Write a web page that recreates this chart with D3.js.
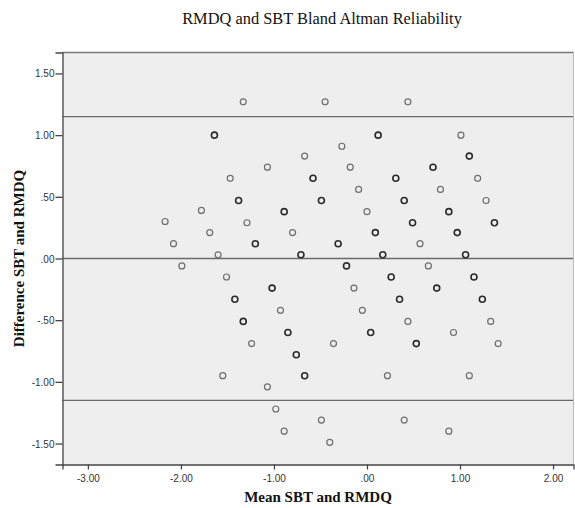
<!DOCTYPE html>
<html>
<head>
<meta charset="utf-8">
<script src="https://cdn.jsdelivr.net/npm/d3@7"></script>
<style>
  body { margin: 0; background: #fff; }
  #chart { width: 575px; height: 508px; }
  .tick text { font-family: "Liberation Sans", Arial, sans-serif; font-size: 10px; fill: #333; }
</style>
</head>
<body>
<div id="chart"></div>
<script>
// Bland Altman data: mean of the two (standardised) scores, their difference, and how many subjects sit on that spot
const meanVals = [-2.17, -2.08, -1.99, -1.78, -1.69, -1.60, -1.51, -1.42, -1.33, -1.24,
  -1.55, -1.64, -1.47, -1.38, -1.29, -1.20, -1.33, -1.07, -1.02, -1.07,
  -0.98, -0.93, -0.89, -0.85, -0.89, -0.80, -0.76, -0.71, -0.67, -0.67,
  -0.58, -0.49, -0.49, -0.45, -0.40, -0.36, -0.31, -0.27, -0.22, -0.18,
  -0.14, -0.09, -0.05, 0.00, 0.04, 0.09, 0.12, 0.17, 0.22, 0.26,
  0.31, 0.35, 0.40, 0.40, 0.44, 0.44, 0.49, 0.53, 0.57, 0.66,
  0.71, 0.75, 0.79, 0.88, 0.88, 0.93, 0.97, 1.01, 1.06, 1.10,
  1.10, 1.15, 1.19, 1.24, 1.28, 1.33, 1.37, 1.41];
const diffVals = [0.30, 0.12, -0.06, 0.39, 0.21, 0.03, -0.15, -0.33, -0.51, -0.69,
  -0.95, 1.00, 0.65, 0.47, 0.29, 0.12, 1.27, 0.74, -0.24, -1.04,
  -1.22, -0.42, 0.38, -0.60, -1.40, 0.21, -0.78, 0.03, -0.95, 0.83,
  0.65, 0.47, -1.31, 1.27, -1.49, -0.69, 0.12, 0.91, -0.06, 0.74,
  -0.24, 0.56, -0.42, 0.38, -0.60, 0.21, 1.00, 0.03, -0.95, -0.15,
  0.65, -0.33, 0.47, -1.31, 1.27, -0.51, 0.29, -0.69, 0.12, -0.06,
  0.74, -0.24, 0.56, 0.38, -1.40, -0.60, 0.21, 1.00, 0.03, 0.83,
  -0.95, -0.15, 0.65, -0.33, 0.47, -0.51, 0.29, -0.69];
const nObs = [1, 1, 1, 1, 1, 1, 1, 2, 2, 1,
  1, 2, 1, 2, 1, 2, 1, 1, 2, 1,
  1, 1, 2, 2, 1, 1, 2, 2, 2, 1,
  2, 2, 1, 1, 1, 1, 2, 1, 2, 1,
  1, 1, 1, 1, 2, 2, 2, 2, 1, 2,
  2, 2, 2, 1, 1, 1, 2, 2, 1, 1,
  2, 2, 1, 2, 1, 1, 2, 1, 2, 2,
  1, 2, 1, 2, 1, 1, 2, 1];

// mean difference and limits of agreement
const refLines = [1.15, 0.00, -1.15];

const xTicks = [-3, -2, -1, 0, 1, 2];
const yTicks = [1.5, 1.0, 0.5, 0.0, -0.5, -1.0, -1.5];

const titleText = "RMDQ and SBT Bland Altman Reliability";
const xLabel = "Mean SBT and RMDQ";
const yLabel = "Difference SBT and RMDQ";

const width = 575, height = 508;
const margin = {top: 52.5, right: 1.5, bottom: 43.5, left: 62.5};
const plotW = width - margin.left - margin.right;
const plotH = height - margin.top - margin.bottom;

// SPSS style number format: drop the leading zero
const fmt = v => {
    let s = d3.format(".2f")(Math.abs(v));
    if (s.startsWith("0")) s = s.slice(1);
    return (v < 0 ? "-" : "") + s;
};

const svg = d3.select("#chart").append("svg")
    .attr("width", width)
    .attr("height", height);

const x = d3.scaleLinear().domain([-3.273, 2.22]).range([0, plotW]);
const y = d3.scaleLinear().domain([-1.67, 1.67]).range([plotH, 0]);

const g = svg.append("g").attr("transform", `translate(${margin.left},${margin.top})`);

g.append("rect")
    .attr("width", plotW)
    .attr("height", plotH)
    .attr("fill", "#eeeeee");

g.selectAll("line.ref")
    .data(refLines)
    .join("line")
    .attr("class", "ref")
    .attr("x1", 0)
    .attr("x2", plotW)
    .attr("y1", d => y(d))
    .attr("y2", d => y(d))
    .attr("stroke", "#6a6a6a")
    .attr("stroke-width", 1.4);

const points = meanVals.map((m, i) => ({m: m, d: diffVals[i], n: nObs[i]}));

g.selectAll("circle")
    .data(points)
    .join("circle")
    .attr("cx", p => x(p.m))
    .attr("cy", p => y(p.d))
    .attr("r", 3)
    .attr("fill", "none")
    .attr("stroke", p => p.n > 1 ? "#2a2a2a" : "#6e6e6e")
    .attr("stroke-width", p => p.n > 1 ? 1.6 : 1.2);

// frame: top and right lighter, left and bottom carry the axes
g.append("line").attr("x1", 0).attr("x2", plotW).attr("y1", 0).attr("y2", 0)
    .attr("stroke", "#7a7a7a").attr("stroke-width", 1.3);
g.append("line").attr("x1", plotW).attr("x2", plotW).attr("y1", 0).attr("y2", plotH)
    .attr("stroke", "#bbbbbb").attr("stroke-width", 1);

const xAxis = g.append("g")
    .attr("transform", `translate(0,${plotH})`)
    .call(d3.axisBottom(x).tickValues(xTicks).tickFormat(fmt).tickSizeOuter(0).tickSize(5).tickPadding(3));
const yAxis = g.append("g")
    .call(d3.axisLeft(y).tickValues(yTicks).tickFormat(fmt).tickSizeOuter(0).tickSize(7).tickPadding(1));

[xAxis, yAxis].forEach(ax => {
    ax.select(".domain").attr("stroke", "#444").attr("stroke-width", 1.3);
    ax.selectAll(".tick line").attr("stroke", "#444").attr("stroke-width", 1.3);
});
xAxis.selectAll(".tick text").attr("dy", "0.95em");
yAxis.selectAll(".tick text").attr("dy", "0.35em");

svg.append("text")
    .attr("x", 322)
    .attr("y", 24)
    .attr("text-anchor", "middle")
    .style("font-family", "'Liberation Serif', 'Times New Roman', serif")
    .style("font-size", "16.4px")
    .style("fill", "#111")
    .text(titleText);

svg.append("text")
    .attr("x", margin.left + plotW / 2)
    .attr("y", 502)
    .attr("text-anchor", "middle")
    .style("font-family", "'Liberation Serif', 'Times New Roman', serif")
    .style("font-size", "15px")
    .style("font-weight", "bold")
    .style("fill", "#111")
    .text(xLabel);

svg.append("text")
    .attr("transform", `translate(24,${margin.top + plotH / 2}) rotate(-90)`)
    .attr("text-anchor", "middle")
    .style("font-family", "'Liberation Serif', 'Times New Roman', serif")
    .style("font-size", "15px")
    .style("font-weight", "bold")
    .style("fill", "#111")
    .text(yLabel);
</script>
</body>
</html>
